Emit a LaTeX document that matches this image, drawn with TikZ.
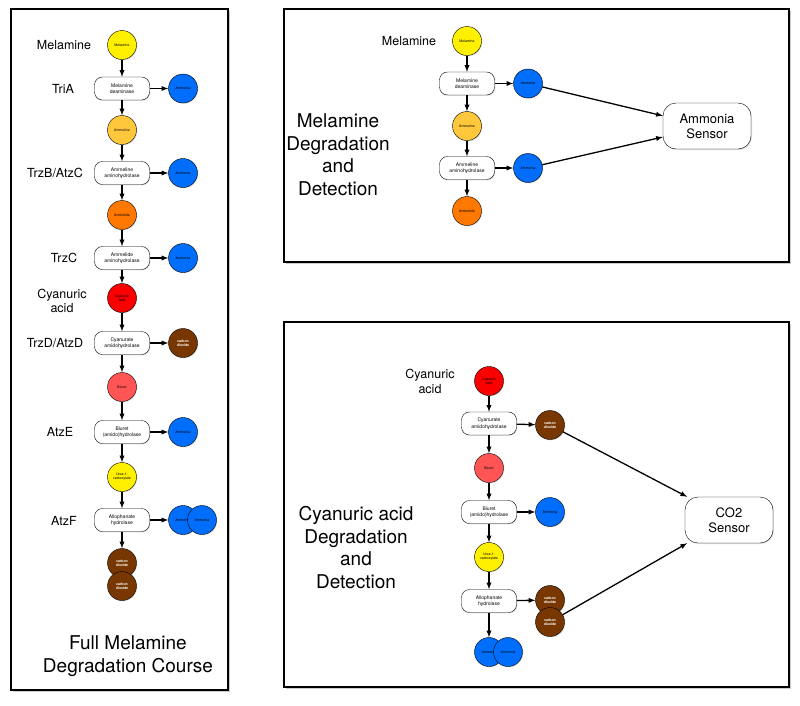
\documentclass[tikz,border=0pt]{standalone}
\usepackage{fontspec}
\setmainfont{TeX Gyre Heros}
\usetikzlibrary{shadows}
\definecolor{melyellow}{RGB}{255,240,0}
\definecolor{nhblue}{RGB}{0,110,250}
\definecolor{ammeline}{RGB}{255,200,60}
\definecolor{ammelide}{RGB}{255,120,0}
\definecolor{cyared}{RGB}{250,0,0}
\definecolor{biuret}{RGB}{255,85,85}
\definecolor{co2brown}{RGB}{120,55,0}

\begin{document}
\begin{tikzpicture}[
	x=1pt, y=-1pt,
	chem/.style={circle, draw, thin, minimum size=29pt, inner sep=0pt, align=center, font=\fontsize{3.5}{4}\selectfont, drop shadow={opacity=0.25, shadow xshift=0.8pt, shadow yshift=-0.8pt}},
	co2/.style={chem, fill=co2brown, text=white, font=\fontsize{3.5}{4}\selectfont\bfseries},
	enzyme/.style={draw, thin, rounded corners=8pt, fill=white, minimum width=55pt, minimum height=23pt, inner sep=1pt, align=center, font=\fontsize{5}{6.5}\selectfont, drop shadow={opacity=0.25, shadow xshift=0.8pt, shadow yshift=-0.8pt}},
	sensor/.style={draw, thin, rounded corners=13pt, fill=white, minimum width=88pt, minimum height=46pt, align=center, font=\fontsize{13}{15}\selectfont, drop shadow={opacity=0.25, shadow xshift=1pt, shadow yshift=-1pt}},
	lbl/.style={align=center, font=\fontsize{12.5}{14.5}\selectfont},
	title/.style={align=center, font=\fontsize{19}{22.5}\selectfont},
	frame/.style={line width=2.8pt, fill=white, drop shadow={opacity=0.4, shadow xshift=2pt, shadow yshift=-2pt}},
	flow/.style={->, >=latex, line width=1.3pt}
	]
	\useasboundingbox (0,0) rectangle (800,705);
	\fill [white] (0,0) rectangle (800,705);

	% frames
	\draw [frame] (11,9) rectangle (228,690);
	\draw [frame] (284,9) rectangle (789,262);
	\draw [frame] (284,322) rectangle (789,687);

	% full degradation course
	\node (lmel) at (122,45) [chem, fill=melyellow] {Melamine};
	\node (ltria) at (122,88.5) [enzyme] {Melamine\\deaminase};
	\node (lnha) at (183,88.5) [chem, fill=nhblue] {Ammonia};
	\node (lamn) at (122,130) [chem, fill=ammeline] {Ammeline};
	\node (ltrzb) at (122,173) [enzyme] {Ammeline\\aminohydrolase};
	\node (lnhb) at (183,173) [chem, fill=nhblue] {Ammonia};
	\node (lamd) at (122,215) [chem, fill=ammelide] {Ammelide};
	\node (ltrzc) at (122,258) [enzyme] {Ammelide\\aminohydrolase};
	\node (lnhc) at (183,258) [chem, fill=nhblue] {Ammonia};
	\node (lcya) at (122,298) [chem, fill=cyared] {Cyanuric\\Acid};
	\node (ltrzd) at (122,343) [enzyme] {Cyanurate\\amidohydrolase};
	\node (lcoa) at (183,343) [co2] {carbon\\dioxide};
	\node (lbiu) at (122,387) [chem, fill=biuret] {Biuret};
	\node (latze) at (122,432) [enzyme] {Biuret\\(amido)hydrolase};
	\node (lnhd) at (183,432) [chem, fill=nhblue] {Ammonia};
	\node (lurea) at (122,477) [chem, fill=melyellow] {Urea-1-\\carboxylate};
	\node (latzf) at (122,520) [enzyme] {Allophanate\\hydrolase};
	\node (lnhe) at (183,520) [chem, fill=nhblue] {Ammonia};
	\node (lnhf) at (202,520) [chem, fill=nhblue] {Ammonia};
	\node (lcob) at (122,563) [co2] {carbon\\dioxide};
	\node (lcoc) at (122,586) [co2] {carbon\\dioxide};

	\draw [flow] (lmel) -- (ltria);
	\draw [flow] (ltria) -- (lnha);
	\draw [flow] (ltria) -- (lamn);
	\draw [flow] (lamn) -- (ltrzb);
	\draw [flow] (ltrzb) -- (lnhb);
	\draw [flow] (ltrzb) -- (lamd);
	\draw [flow] (lamd) -- (ltrzc);
	\draw [flow] (ltrzc) -- (lnhc);
	\draw [flow] (ltrzc) -- (lcya);
	\draw [flow] (lcya) -- (ltrzd);
	\draw [flow] (ltrzd) -- (lcoa);
	\draw [flow] (ltrzd) -- (lbiu);
	\draw [flow] (lbiu) -- (latze);
	\draw [flow] (latze) -- (lnhd);
	\draw [flow] (latze) -- (lurea);
	\draw [flow] (lurea) -- (latzf);
	\draw [flow] (latzf) -- (lnhe);
	\draw [flow] (latzf) -- (lcob);

	\node (tmel) at (64,45) [lbl] {Melamine};
	\node (ttria) at (63,89) [lbl] {TriA};
	\node (ttrzb) at (55,173) [lbl] {TrzB/AtzC};
	\node (ttrzc) at (64,258) [lbl] {TrzC};
	\node (tcya) at (62,301) [lbl] {Cyanuric\\acid};
	\node (ttrzd) at (55,343) [lbl] {TrzD/AtzD};
	\node (tatze) at (60,432) [lbl] {AtzE};
	\node (tatzf) at (64,521) [lbl] {AtzF};
	\node (tfull) at (128,656) [title] {Full Melamine\\Degradation Course};

	% melamine degradation and detection
	\node (amel) at (467,41) [chem, fill=melyellow] {Melamine};
	\node (atria) at (467,83.5) [enzyme] {Melamine\\deaminase};
	\node (anha) at (528,83.5) [chem, fill=nhblue] {Ammonia};
	\node (aamn) at (467,126) [chem, fill=ammeline] {Ammeline};
	\node (atrzb) at (467,168) [enzyme] {Ammeline\\aminohydrolase};
	\node (anhb) at (528,168) [chem, fill=nhblue] {Ammonia};
	\node (aamd) at (467,211) [chem, fill=ammelide] {Ammelide};
	\node (asensor) at (707,126) [sensor] {Ammonia\\Sensor};

	\draw [flow] (amel) -- (atria);
	\draw [flow] (atria) -- (anha);
	\draw [flow] (atria) -- (aamn);
	\draw [flow] (aamn) -- (atrzb);
	\draw [flow] (atrzb) -- (anhb);
	\draw [flow] (atrzb) -- (aamd);
	\draw [flow] (anha) -- (asensor.167);
	\draw [flow] (anhb) -- (asensor.194);

	\node (amlbl) at (409,41) [lbl] {Melamine};
	\node (atitle) at (338,154.5) [title] {Melamine\\Degradation\\and\\Detection};

	% cyanuric acid degradation and detection
	\node (ccya) at (489,381) [chem, fill=cyared] {Cyanuric\\Acid};
	\node (ctrzd) at (489,423.5) [enzyme] {Cyanurate\\amidohydrolase};
	\node (ccoa) at (550,425) [co2] {carbon\\dioxide};
	\node (cbiu) at (489,468) [chem, fill=biuret] {Biuret};
	\node (catze) at (489,512) [enzyme] {Biuret\\(amido)hydrolase};
	\node (cnha) at (550,512) [chem, fill=nhblue] {Ammonia};
	\node (curea) at (489,557) [chem, fill=melyellow] {Urea-1-\\carboxylate};
	\node (catzf) at (489,601) [enzyme] {Allophanate\\hydrolase};
	\node (ccob) at (550,600) [co2] {carbon\\dioxide};
	\node (ccoc) at (550,622) [co2] {carbon\\dioxide};
	\node (cnhb) at (489,652) [chem, fill=nhblue] {Ammonia};
	\node (cnhc) at (508,652) [chem, fill=nhblue] {Ammonia};
	\node (csensor) at (729,520) [sensor] {CO2\\Sensor};

	\draw [flow] (ccya) -- (ctrzd);
	\draw [flow] (ctrzd) -- (ccoa);
	\draw [flow] (ctrzd) -- (cbiu);
	\draw [flow] (cbiu) -- (catze);
	\draw [flow] (catze) -- (cnha);
	\draw [flow] (catze) -- (curea);
	\draw [flow] (curea) -- (catzf);
	\draw [flow] (catzf) -- (ccob);
	\draw [flow] (catzf) -- (cnhb);
	\draw [flow] (ccoa) -- (csensor.151);
	\draw [flow] (ccoc) -- (csensor.209);

	\node (cclbl) at (430,381.5) [lbl] {Cyanuric\\acid};
	\node (ctitle) at (356,547.5) [title] {Cyanuric acid\\Degradation\\and\\Detection};
\end{tikzpicture}
\end{document}
